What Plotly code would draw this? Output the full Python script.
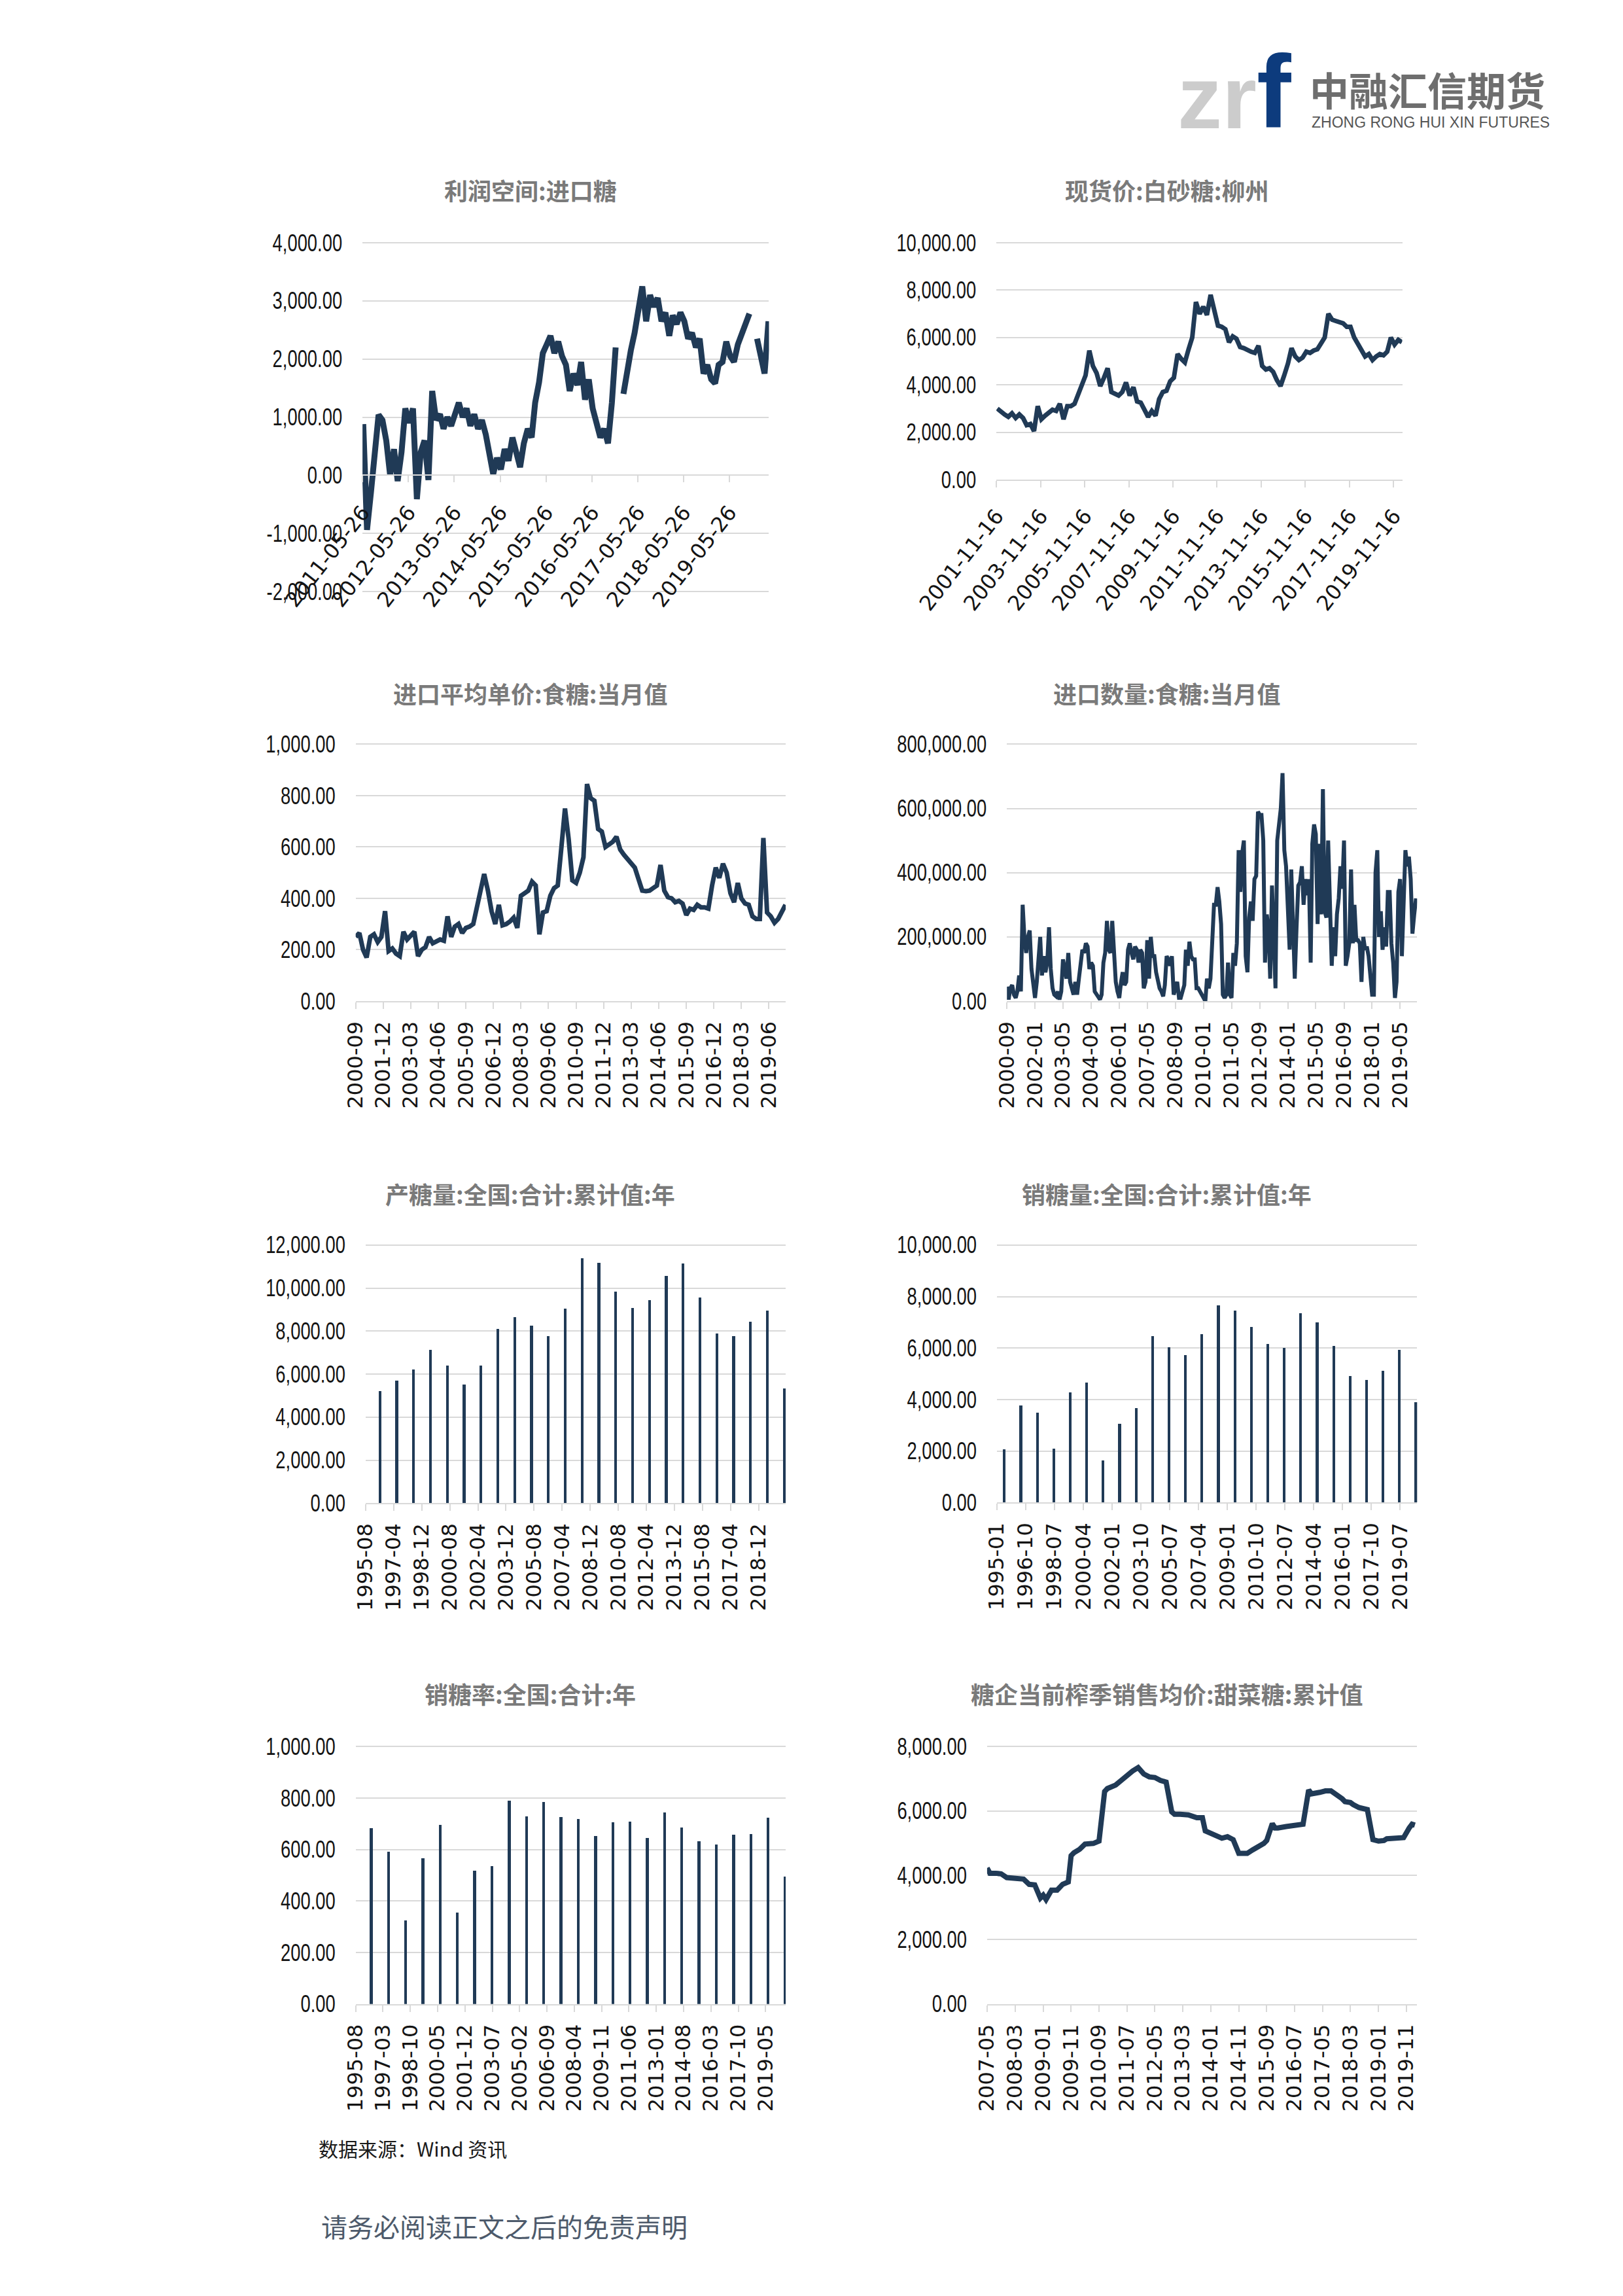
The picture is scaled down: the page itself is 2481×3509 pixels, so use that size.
import plotly.graph_objects as go
import pandas as pd

W, H = 2481, 3509
NAVY = "#203a56"
GRID = "#d9d9d9"

# ---------------- data ----------------
# 1 利润空间:进口糖 (monthly samples from 2011-06)
profit_start = "2011-06-01"
profit_values = [
    880, -940, -300, 350, 1040, 950, 600, 0, 450, -100,
    400, 1150, 900, 1150, -410, 400, 600, -80, 1450, 950,
    1050, 800, 1000, 850, 1100, 1250, 1000, 1150, 850, 1050,
    800, 950, 700, 350, 20, 300, 100, 450, 250, 650,
    350, 140, 550, 800, 650, 1250, 1600, 2100, 2250, 2400,
    2100, 2300, 2050, 1900, 1450, 1750, 1550, 1950, 1300, 1650,
    1150, 900, 650, 800, 550, 1250, 2200, None, 1400, 1800,
    2150, 2450, 2800, 3250, 2650, 3100, 2900, 3050, 2650, 2800,
    2400, 2750, 2600, 2800, 2650, 2350, 2450, 2200, 2350, 1750,
    1900, 1650, 1580, 1900, 1950, 2300, 2050, 1950, 2250, 2450,
    2650, 2780, None, 2350, 2050, 1750, 2650,
]
profit_ticks = ["2011-05-26", "2012-05-26", "2013-05-26", "2014-05-26", "2015-05-26",
                "2016-05-26", "2017-05-26", "2018-05-26", "2019-05-26"]
profit_range = ["2011-05-26", "2020-04-05"]

# 2 现货价:白砂糖:柳州 (bi-monthly samples from 2001-12)
spot_start = "2001-12-01"
spot_values = [
    3000, 2850, 2750, 2650, 2800, 2600, 2750, 2600, 2300, 2350,
    2050, 3100, 2550, 2700, 2800, 2950, 2900, 3200, 2550, 3100,
    3100, 3200, 3600, 3950, 4400, 5450, 4800, 4500, 3950, 4300,
    4700, 3700, 3600, 3550, 3700, 4100, 3550, 3900, 3300, 3250,
    2950, 2650, 2900, 2700, 3400, 3700, 3750, 4150, 4300, 5300,
    5100, 4950, 5500, 6000, 7500, 7000, 7300, 6950, 7800, 7200,
    6500, 6450, 6350, 5800, 6050, 5950, 5600, 5550, 5450, 5400,
    5350, 5650, 4800, 4650, 4700, 4550, 4200, 3950, 4400, 4900,
    5550, 5200, 5050, 5150, 5400, 5350, 5450, 5500, 5750, 6000,
    7000, 6750, 6700, 6650, 6600, 6450, 6450, 6000, 5750, 5500,
    5200, 5300, 5050, 5200, 5300, 5250, 5400, 6000, 5700, 5900, 5800,
]
spot_ticks = ["2001-11-16", "2003-11-16", "2005-11-16", "2007-11-16", "2009-11-16",
              "2011-11-16", "2013-11-16", "2015-11-16", "2017-11-16", "2019-11-16"]
spot_range = ["2001-11-16", "2020-04-06"]

# 3 进口平均单价:食糖:当月值 (bi-monthly samples from 2000-09)
price_start = "2000-09-01"
price_values = [
    250, 265, 200, 170, 250, 260, 230, 250, 350, 195,
    205, 185, 175, 270, 240, 255, 270, 175, 200, 210,
    250, 225, 235, 240, 235, 330, 250, 290, 300, 265,
    285, 290, 300, 360, 440, 495, 430, 350, 300, 375,
    295, 300, 310, 325, 285, 410, 420, 430, 465, 450,
    260, 345, 350, 410, 440, 450, 600, 750, 630, 470,
    460, 500, 560, 845, 790, 780, 670, 660, 600, 610,
    620, 640, 590, 570, 555, 540, 520, 475, 430, 428,
    430, 440, 450, 530, 430, 405, 400, 385, 390, 380,
    335, 360, 355, 375, 365, 365, 360, 450, 520, 480,
    535, 500, 420, 385, 460, 400, 380, 375, 330, 320,
    320, 635, 345, 330, 305, 320, 345, 375,
]
price_ticks = ["2000-09", "2001-12", "2003-03", "2004-06", "2005-09", "2006-12", "2008-03",
               "2009-06", "2010-09", "2011-12", "2013-03", "2014-06", "2015-09", "2016-12",
               "2018-03", "2019-06"]
price_range = ["2000-09-01", "2020-03-05"]

# 4 进口数量:食糖:当月值 (monthly from 2000-09)
qty_start = "2000-09-01"
qty_values = [
    45000, 5000, 40000, 50000, 20000, 10000, 30000, 80000, 30000, 300000,
    200000, 150000, 200000, 220000, 100000, 40000, 10000, 60000, 150000, 200000,
    80000, 140000, 90000, 120000, 230000, 100000, 40000, 20000, 15000, 30000,
    5000, 30000, 130000, 90000, 70000, 150000, 60000, 40000, 20000, 60000,
    20000, 70000, 130000, 160000, 150000, 180000, 170000, 100000, 120000, 110000,
    30000, 20000, 10000, 5000, 20000, 120000, 150000, 250000, 160000, 150000,
    250000, 160000, 60000, 30000, 10000, 60000, 90000, 50000, 60000, 160000,
    180000, 150000, 130000, 170000, 160000, 120000, 160000, 150000, 40000, 60000,
    190000, 70000, 200000, 140000, 140000, 90000, 60000, 40000, 30000, 15000,
    50000, 140000, 130000, 110000, 140000, 20000, 40000, 60000, 10000, 10000,
    30000, 50000, 160000, 110000, 185000, 140000, 130000, 130000, 40000, 40000,
    30000, 20000, 5000, 0, 70000, 40000, 70000, 200000, 300000, 300000,
    355000, 310000, 240000, 20000, 10000, 20000, 120000, 20000, 10000, 150000,
    110000, 180000, 470000, 340000, 460000, 500000, 140000, 90000, 260000, 310000,
    250000, 380000, 390000, 590000, 580000, 580000, 500000, 120000, 270000, 220000,
    70000, 360000, 230000, 40000, 500000, 560000, 600000, 710000, 470000, 420000,
    250000, 160000, 410000, 270000, 70000, 230000, 360000, 370000, 420000, 300000,
    380000, 330000, 380000, 120000, 490000, 550000, 520000, 240000, 490000, 270000,
    660000, 280000, 260000, 500000, 280000, 110000, 230000, 140000, 270000, 320000,
    420000, 350000, 500000, 110000, 140000, 180000, 410000, 180000, 300000, 190000,
    190000, 180000, 60000, 200000, 160000, 170000, 140000, 80000, 20000, 20000,
    400000, 470000, 200000, 280000, 160000, 230000, 170000, 340000, 340000, 180000,
    120000, 10000, 60000, 340000, 380000, 140000, 310000, 470000, 420000, 450000,
    380000, 210000, 270000, 320000,
]
qty_ticks = ["2000-09", "2002-01", "2003-05", "2004-09", "2006-01", "2007-05", "2008-09",
             "2010-01", "2011-05", "2012-09", "2014-01", "2015-05", "2016-09", "2018-01",
             "2019-05"]
qty_range = ["2000-09-01", "2020-02-20"]

# 5 产糖量:全国:合计:累计值:年 (yearly)
prod_dates = ["%d-06-05" % y for y in range(1996, 2021)]
prod_values = [5200, 5700, 6190, 7130, 6390, 5500, 6390, 8080, 8625, 8230,
               7740, 9020, 11360, 11160, 9810, 9070, 9430, 10560, 11120, 9560,
               7880, 7740, 8420, 8925, 5310]
prod_ticks = ["1995-08", "1997-04", "1998-12", "2000-08", "2002-04", "2003-12", "2005-08",
              "2007-04", "2008-12", "2010-08", "2012-04", "2013-12", "2015-08", "2017-04",
              "2018-12"]
prod_range = ["1995-08-01", "2020-07-10"]

# 6 销糖量:全国:合计:累计值:年 (yearly)
sales_dates = ["%d-06-15" % y for y in range(1995, 2021)]
sales_values = [2050, 3750, 3470, 2080, 4270, 4660, 1630, 3050, 3670, 6450,
                6030, 5710, 6530, 7650, 7440, 6820, 6150, 6000, 7350, 6990,
                6070, 4910, 4750, 5110, 5910, 3880]
sales_ticks = ["1995-01", "1996-10", "1998-07", "2000-04", "2002-01", "2003-10", "2005-07",
               "2007-04", "2009-01", "2010-10", "2012-07", "2014-04", "2016-01", "2017-10",
               "2019-07"]
sales_range = ["1995-01-01", "2020-07-10"]

# 7 销糖率:全国:合计:年 (yearly)
rate_dates = ["%d-06-20" % y for y in range(1996, 2021)]
rate_values = [683, 591, 325, 566, 697, 355, 519, 536, 789, 730,
               785, 727, 719, 653, 706, 710, 644, 744, 686, 632,
               620, 657, 661, 723, 496]
rate_ticks = ["1995-08", "1997-03", "1998-10", "2000-05", "2001-12", "2003-07", "2005-02",
              "2006-09", "2008-04", "2009-11", "2011-06", "2013-01", "2014-08", "2016-03",
              "2017-10", "2019-05"]
rate_range = ["1995-08-01", "2020-07-01"]

# 8 糖企当前榨季销售均价:甜菜糖:累计值
beet_dates = [
    "2007-05", "2007-06", "2007-08", "2007-10", "2007-12", "2008-02", "2008-04", "2008-06",
    "2008-08", "2008-10", "2008-12", "2009-01", "2009-02", "2009-04", "2009-06", "2009-08",
    "2009-10", "2009-11", "2009-12", "2010-02", "2010-04", "2010-05", "2010-07", "2010-09",
    "2010-11", "2010-12", "2011-03", "2011-05", "2011-07", "2011-09", "2011-11", "2012-01",
    "2012-03", "2012-05", "2012-07", "2012-09", "2012-11", "2012-12", "2013-02", "2013-05",
    "2013-08", "2013-10", "2013-11", "2014-01", "2014-03", "2014-05", "2014-07", "2014-09",
    "2014-11", "2014-12", "2015-02", "2015-04", "2015-06", "2015-08", "2015-09", "2015-11",
    "2015-12", "2016-01", "2016-04", "2016-06", "2016-08", "2016-10", "2016-12", "2017-01",
    "2017-04", "2017-06", "2017-08", "2017-10", "2017-12", "2018-01", "2018-03", "2018-04",
    "2018-06", "2018-09", "2018-11", "2019-01", "2019-03", "2019-04", "2019-08", "2019-10",
    "2019-12", "2020-01", "2020-02",
]
beet_values = [
    4227, 4063, 4063, 4045, 3927, 3900, 3900, 3882,
    3719, 3700, 3292, 3383, 3247, 3537, 3537, 3719,
    3791, 4608, 4698, 4807, 4970, 4970, 4989, 5061,
    6603, 6694, 6802, 6948, 7102, 7238, 7347, 7147,
    7056, 7038, 6948, 6893, 5968, 5896, 5896, 5877,
    5786, 5786, 5379, 5288, 5243, 5152, 5197, 5107,
    4680, 4680, 4680, 4789, 4880, 4989, 5079, 5605,
    5469, 5469, 5515, 5533, 5560, 5587, 6648, 6530,
    6576, 6621, 6621, 6512, 6376, 6285, 6258, 6195,
    6104, 6041, 5107, 5061, 5079, 5134, 5134, 5170,
    5469, 5587, 5560,
]
beet_ticks = ["2007-05", "2008-03", "2009-01", "2009-11", "2010-09", "2011-07", "2012-05",
              "2013-03", "2014-01", "2014-11", "2015-09", "2016-07", "2017-05", "2018-03",
              "2019-01", "2019-11"]
beet_range = ["2007-05-01", "2020-02-25"]

titles = ["利润空间:进口糖", "现货价:白砂糖:柳州", "进口平均单价:食糖:当月值", "进口数量:食糖:当月值",
          "产糖量:全国:合计:累计值:年", "销糖量:全国:合计:累计值:年", "销糖率:全国:合计:年",
          "糖企当前榨季销售均价:甜菜糖:累计值"]

# ---------------- layout geometry (pixels) ----------------
panels = [
    dict(x0=452, x1=1108, yt=357, yb=896, vt=4000, vb=-2000, step=1000, angle=-52, xs=14, lw=9),
    dict(x0=1475, x1=2130, yt=357, yb=723, vt=10000, vb=0, step=2000, angle=-52, xs=12, lw=7),
    dict(x0=441, x1=1135, yt=1132, yb=1529, vt=1000, vb=0, step=200, angle=-90, xs=6, lw=7),
    dict(x0=1492, x1=2154, yt=1132, yb=1529, vt=800000, vb=0, step=200000, angle=-90, xs=6, lw=6),
    dict(x0=457, x1=1135, yt=1906, yb=2305, vt=12000, vb=0, step=2000, angle=-90, xs=6, lw=0),
    dict(x0=1476, x1=2154, yt=1906, yb=2304, vt=10000, vb=0, step=2000, angle=-90, xs=6, lw=0),
    dict(x0=441, x1=1135, yt=2681, yb=3079, vt=1000, vb=0, step=200, angle=-90, xs=6, lw=0),
    dict(x0=1460, x1=2154, yt=2681, yb=3079, vt=8000, vb=0, step=2000, angle=-90, xs=6, lw=8),
]
title_pos = [(723, 275), (1750, 275), (723, 1053), (1750, 1053),
             (723, 1826), (1750, 1826), (723, 2599), (1750, 2599)]

YFONT = dict(family="Liberation Sans, Arial, sans-serif", size=36, color="#141414")
XFONT_ANG = dict(family="DejaVu Sans, Verdana, sans-serif", size=32, color="#141414")
XFONT_VERT = dict(family="DejaVu Sans, Verdana, sans-serif", size=32, color="#141414")

fig = go.Figure()

def fmt(v):
    s = "{:,.2f}".format(abs(v))
    return ("-" + s) if v < 0 else s

def month_ticks(labels):
    return [l + "-01" for l in labels]

lw = [p["lw"] for p in panels]
fig.add_trace(go.Scatter(x=pd.date_range(profit_start, periods=len(profit_values), freq="MS"),
                         y=profit_values, mode="lines", connectgaps=False,
                         line=dict(color=NAVY, width=lw[0]), xaxis="x", yaxis="y"))
fig.add_trace(go.Scatter(x=pd.date_range(spot_start, periods=len(spot_values), freq="2MS"),
                         y=spot_values, mode="lines", line=dict(color=NAVY, width=lw[1]),
                         xaxis="x2", yaxis="y2"))
fig.add_trace(go.Scatter(x=pd.date_range(price_start, periods=len(price_values), freq="2MS"),
                         y=price_values, mode="lines", line=dict(color=NAVY, width=lw[2]),
                         xaxis="x3", yaxis="y3"))
fig.add_trace(go.Scatter(x=pd.date_range(qty_start, periods=len(qty_values), freq="MS"),
                         y=qty_values, mode="lines", line=dict(color=NAVY, width=lw[3]),
                         xaxis="x4", yaxis="y4"))
BARW = 2 * 30.44 * 86400000
fig.add_trace(go.Bar(x=prod_dates, y=prod_values, width=BARW, marker=dict(color=NAVY, line=dict(width=0)),
                     xaxis="x5", yaxis="y5"))
fig.add_trace(go.Bar(x=sales_dates, y=sales_values, width=BARW, marker=dict(color=NAVY, line=dict(width=0)),
                     xaxis="x6", yaxis="y6"))
fig.add_trace(go.Bar(x=rate_dates, y=rate_values, width=BARW, marker=dict(color=NAVY, line=dict(width=0)),
                     xaxis="x7", yaxis="y7"))
fig.add_trace(go.Scatter(x=[d + "-01" for d in beet_dates], y=beet_values, mode="lines",
                         line=dict(color=NAVY, width=lw[7]), xaxis="x8", yaxis="y8"))

xinfo = [
    (profit_ticks, profit_ticks, profit_range),
    (spot_ticks, spot_ticks, spot_range),
    (month_ticks(price_ticks), price_ticks, price_range),
    (month_ticks(qty_ticks), qty_ticks, qty_range),
    (month_ticks(prod_ticks), prod_ticks, prod_range),
    (month_ticks(sales_ticks), sales_ticks, sales_range),
    (month_ticks(rate_ticks), rate_ticks, rate_range),
    (month_ticks(beet_ticks), beet_ticks, beet_range),
]

layout = dict(width=W, height=H, margin=dict(l=0, r=0, t=0, b=0), paper_bgcolor="white",
              plot_bgcolor="white", showlegend=False, bargap=0)
for i, p in enumerate(panels):
    n = "" if i == 0 else str(i + 1)
    span = p["vt"] - p["vb"]
    scale = (p["yb"] - p["yt"]) / span
    d = span * 0.006
    top_px = p["yt"] - d * scale
    if p["vb"] < 0:
        rng = [p["vb"] - d, p["vt"] + d]
        bot_px = p["yb"] + d * scale
    else:
        rng = [p["vb"], p["vt"] + d]
        bot_px = p["yb"]
    ticks = list(range(p["vb"], p["vt"] + 1, p["step"]))
    ydom = [1 - bot_px / H, 1 - top_px / H]
    tv, tt, xr = xinfo[i]
    xa = dict(type="date", domain=[p["x0"] / W, p["x1"] / W], range=xr,
              tickmode="array", tickvals=tv, ticktext=tt, tickangle=p["angle"],
              tickfont=XFONT_VERT if p["angle"] == -90 else XFONT_ANG,
              ticks="outside", ticklen=10, tickwidth=2, tickcolor=GRID,
              ticklabelstandoff=p["xs"],
              showline=True, linecolor=GRID, linewidth=2, showgrid=False, zeroline=False,
              fixedrange=True)
    if p["vb"] < 0:
        zero_px = p["yt"] + p["vt"] * scale
        xa.update(anchor="free", position=1 - zero_px / H)
    else:
        xa.update(anchor="y" + n)
    ya = dict(domain=ydom, range=rng, anchor="x" + n, tickmode="array", tickvals=ticks,
              ticktext=[fmt(v) for v in ticks], tickfont=YFONT, showgrid=True,
              gridcolor=GRID, gridwidth=2, zeroline=False, showline=False, ticks="",
              ticklabelstandoff=30, fixedrange=True)
    layout["xaxis" + n] = xa
    layout["yaxis" + n] = ya

ann = []
for t, (cx, cy) in zip(titles, title_pos):
    ann.append(dict(text="<b>" + t + "</b>", x=cx / W, y=1 - cy / H, xref="paper", yref="paper",
                    showarrow=False, xanchor="center", yanchor="middle",
                    font=dict(family="Noto Sans CJK SC", size=36, color="#7a7a7a")))
# footer
ann.append(dict(text="数据来源：Wind 资讯", x=379 / W, y=1 - 3302 / H, xref="paper", yref="paper",
                showarrow=False, xanchor="left", yanchor="middle",
                font=dict(family="Noto Sans CJK SC", size=30, color="#1a1a1a")))
ann.append(dict(text="请务必阅读正文之后的免责声明", x=383 / W, y=1 - 3422 / H, xref="paper", yref="paper",
                showarrow=False, xanchor="left", yanchor="middle",
                font=dict(family="Noto Sans CJK SC", size=40, color="#4d5a6b")))
# logo
ann.append(dict(text="<b>zr</b>", x=1766 / W, y=1 - 132 / H, xref="paper", yref="paper",
                showarrow=False, xanchor="left", yanchor="middle", borderpad=0,
                font=dict(family="Liberation Sans", size=136, color="#cccccc")))
ann.append(dict(text="<b>f</b>", x=1894 / W, y=1 - 122 / H, xref="paper", yref="paper",
                showarrow=False, xanchor="left", yanchor="middle", borderpad=0,
                font=dict(family="Liberation Sans", size=158, color="#0d3b7d")))
ann.append(dict(text="<b>中融汇信期货</b>", x=1978 / W, y=1 - 119 / H, xref="paper", yref="paper",
                showarrow=False, xanchor="left", yanchor="middle",
                font=dict(family="Noto Sans CJK SC", size=60, color="#6e6e6e")))
ann.append(dict(text="ZHONG RONG HUI XIN FUTURES", x=1982 / W, y=1 - 171 / H, xref="paper", yref="paper",
                showarrow=False, xanchor="left", yanchor="middle",
                font=dict(family="Liberation Sans, Arial, sans-serif", size=23, color="#555555")))
layout["annotations"] = ann

fig.update_layout(**layout)

# narrow (condensed) y tick labels, like the reference's narrow numeric font
squeeze_js = """
var gd = document.getElementById('{plot_id}');
function squeezeTicks(){
  var sel = [];
  for (var k = 1; k <= 8; k++) { sel.push('g.y' + (k === 1 ? '' : k) + 'tick text'); }
  gd.querySelectorAll(sel.join(',')).forEach(function(t){
    if (t.getAttribute('data-sq')) return;
    var w = t.getComputedTextLength();
    t.setAttribute('textLength', (w * 0.76).toFixed(2));
    t.setAttribute('lengthAdjust', 'spacingAndGlyphs');
    t.setAttribute('data-sq', '1');
  });
}
squeezeTicks();
"""
fig.write_html("out.html", config={"displayModeBar": False}, post_script=squeeze_js)

with open("out.html", "r", encoding="utf-8") as f:
    html = f.read()
html = html.replace("<body>", "<body style=\"margin:0;padding:0;\">", 1)
with open("out.html", "w", encoding="utf-8") as f:
    f.write(html)
